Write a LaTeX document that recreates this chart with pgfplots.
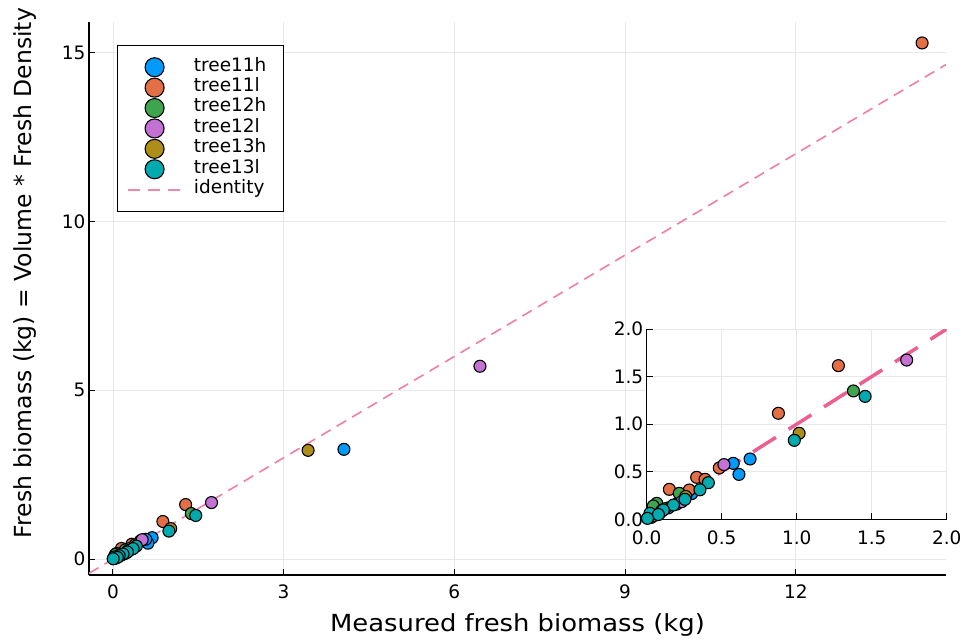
\documentclass[border=0pt]{standalone}
\usepackage{fontspec}
\setmainfont{DejaVu Sans}
\newfontfamily\xlabfont[FakeStretch=1.1]{DejaVu Sans}
\usepackage{pgfplots}
\usepackage{pgfplotstable}
\pgfplotsset{compat=1.18}
\definecolor{c1}{HTML}{009AFA}
\definecolor{c2}{HTML}{E36F47}
\definecolor{c3}{HTML}{3EA44E}
\definecolor{c4}{HTML}{C371D2}
\definecolor{c5}{HTML}{AC8E18}
\definecolor{c6}{HTML}{00AAAE}
\definecolor{c7}{HTML}{ED5E93}

\pgfplotstableread{
x y
4.06 3.25
0.689 0.634
0.615 0.472
0.577 0.588
0.144 0.12
0.09 0.07
0.03 0.02
0.20 0.16
0.30 0.27
}\treeAh
\pgfplotstableread{
x y
14.22 15.28
1.278 1.615
0.878 1.114
0.484 0.54
0.333 0.441
0.389 0.42
0.151 0.315
0.284 0.308
0.06 0.08
0.02 0.03
}\treeAl
\pgfplotstableread{
x y
1.378 1.349
0.217 0.273
0.067 0.168
0.044 0.14
0.12 0.11
0.01 0.02
}\treeBh
\pgfplotstableread{
x y
6.45 5.71
1.733 1.674
0.515 0.575
0.233 0.185
0.10 0.09
0.03 0.04
}\treeBl
\pgfplotstableread{
x y
3.43 3.22
1.016 0.904
0.26 0.24
0.05 0.04
}\treeCh
\pgfplotstableread{
x y
1.456 1.292
0.984 0.830
0.411 0.385
0.355 0.31
0.255 0.21
0.178 0.15
0.111 0.098
0.022 0.063
0.078 0.05
0.005 0.01
}\treeCl

\pgfplotsset{
  pt/.style={only marks, mark=*, mark size=6pt,
    mark options={fill=#1, draw=black, line width=1.1pt},
    legend image code/.code={%
      \path[draw=none, fill=none] (0pt,-9.5pt) rectangle (53pt,9.5pt);
      \draw[##1, mark size=9.5pt] plot coordinates {(26.5pt,0pt)};}},
  idline/.style={c7!80!white, line width=1.6pt, dash pattern=on 11pt off 7pt,
    legend image code/.code={%
      \path[draw=none, fill=none] (0pt,-9.5pt) rectangle (53pt,9.5pt);
      \draw[draw=c7!75!white, line width=1.8pt, dash pattern=on 12pt off 8pt] (0pt,0pt) -- (53pt,0pt);}},
  base/.style={
    scale only axis,
    axis lines=left,
    axis line style={-, black, line width=1.1pt},
    tick style={black, line width=1pt},
    tick align=inside,
    major tick length=6pt,
    grid=major,
    grid style={black!9, line width=0.8pt},
    ticklabel style={font=\fontsize{18.5}{20}\selectfont},
    /pgf/number format/assume math mode=true,
  },
}

\begin{document}
\begin{tikzpicture}
\path[use as bounding box] (0pt,0pt) rectangle (963pt,641pt);
\begin{axis}[base,
  at={(89pt,66pt)}, anchor=south west,
  width=857pt, height=553pt,
  xmin=-0.42, xmax=14.64, ymin=-0.47, ymax=15.9,
  xtick={0,3,6,9,12}, ytick={0,5,10,15},
  xticklabel style={yshift=-6pt},
  xlabel={Measured fresh biomass (kg)},
  ylabel={Fresh biomass (kg) = Volume * Fresh Density},
  xlabel style={font=\xlabfont\fontsize{23.5}{26}\selectfont, at={(axis description cs:0.5,-0.0904)}, anchor=center},
  ylabel style={font=\fontsize{23.5}{26}\selectfont, at={(axis description cs:-0.0747,0.546)}, anchor=center},
  legend style={at={(axis description cs:0.0323,0.9585)}, anchor=north west,
    draw=black, line width=1pt, fill=white,
    inner xsep=10pt, inner ysep=11.6pt,
    font=\fontsize{18.5}{20}\selectfont,
    nodes={inner sep=0pt, text height=14pt, text depth=6.4pt, text width=80pt},
    column sep=12pt, row sep=0pt},
  legend cell align=left,
]
\addplot[pt=c1] table {\treeAh};
\addlegendentry{tree11h}
\addplot[pt=c2] table {\treeAl};
\addlegendentry{tree11l}
\addplot[pt=c3] table {\treeBh};
\addlegendentry{tree12h}
\addplot[pt=c4] table {\treeBl};
\addlegendentry{tree12l}
\addplot[pt=c5] table {\treeCh};
\addlegendentry{tree13h}
\addplot[pt=c6] table {\treeCl};
\addlegendentry{tree13l}
\addplot[idline] coordinates {(-0.42,-0.42) (14.64,14.64)};
\addlegendentry{identity}
\end{axis}

\begin{axis}[base,
  at={(646.7pt,121.7pt)}, anchor=south west,
  width=300pt, height=190.3pt,
  xmin=0, xmax=2, ymin=0, ymax=2,
  xtick={0,0.5,1,1.5,2}, ytick={0,0.5,1,1.5,2},
  axis background/.style={fill=white},
  xticklabel style={yshift=-8pt, /pgf/number format/fixed, /pgf/number format/fixed zerofill, /pgf/number format/precision=1},
  yticklabel style={/pgf/number format/fixed, /pgf/number format/fixed zerofill, /pgf/number format/precision=1},
  restrict x to domain=-0.1:2.1,
  restrict y to domain=-0.1:2.1,
]
\addplot[pt=c1] table {\treeAh};
\addplot[pt=c2] table {\treeAl};
\addplot[pt=c3] table {\treeBh};
\addplot[pt=c4] table {\treeBl};
\addplot[pt=c5] table {\treeCh};
\addplot[pt=c6] table {\treeCl};
\addplot[c7, line width=3.5pt, dash pattern=on 27pt off 15pt]
  coordinates {(0,0) (2,2)};
\end{axis}
\end{tikzpicture}
\end{document}
